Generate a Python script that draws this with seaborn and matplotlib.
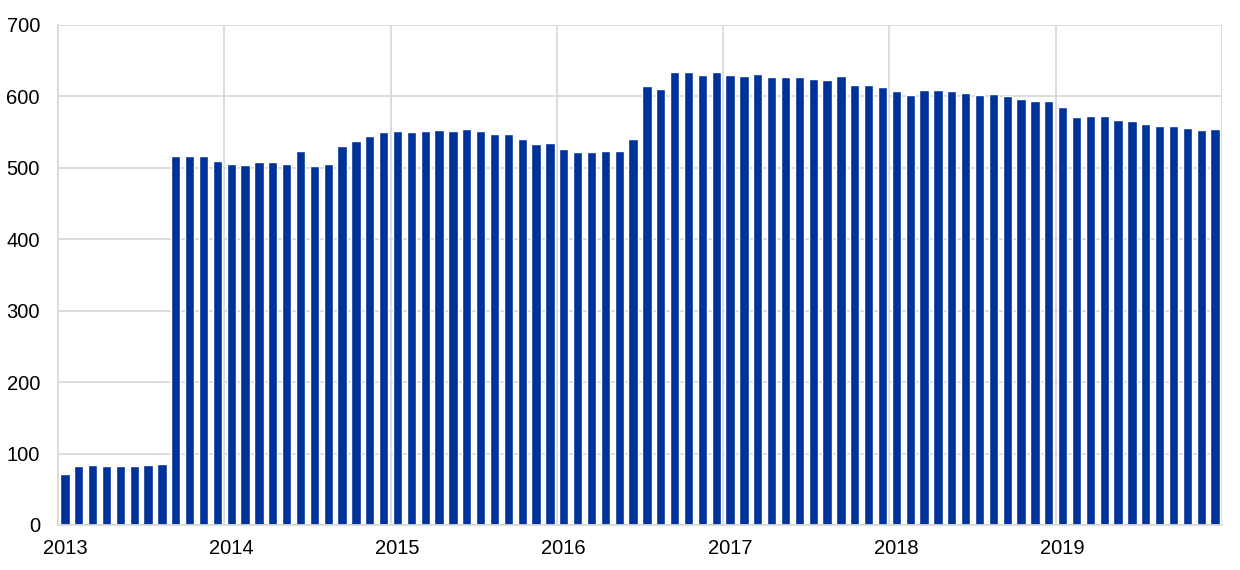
import numpy as np
import pandas as pd
import matplotlib
matplotlib.use("Agg")
import matplotlib.pyplot as plt
import seaborn as sns

# monthly values, Jan 2013 - Dec 2019
v2013 = [71, 82, 84, 82, 82, 83, 84, 86, 516, 517, 516, 509]
v2014 = [506, 504, 508, 508, 506, 524, 503, 506, 531, 537, 545, 550]
v2015 = [552, 550, 552, 553, 552, 554, 551, 548, 548, 540, 534, 535]
v2016 = [526, 522, 522, 523, 523, 541, 615, 611, 634, 634, 630, 634]
v2017 = [630, 629, 632, 627, 627, 627, 625, 623, 628, 616, 616, 613]
v2018 = [607, 602, 609, 609, 607, 605, 602, 603, 601, 596, 593, 594]
v2019 = [585, 571, 573, 573, 567, 566, 561, 558, 558, 556, 553, 554]
years = [2013, 2014, 2015, 2016, 2017, 2018, 2019]

values = v2013 + v2014 + v2015 + v2016 + v2017 + v2018 + v2019
months = [f"{y}-{m:02d}" for y in years for m in range(1, 13)]
df = pd.DataFrame({"month": months, "value": values})

sns.set_style("white")
plt.rcParams['font.family'] = ['Liberation Sans', 'DejaVu Sans']

fig = plt.figure(figsize=(12.4, 5.7), dpi=100)
ax = fig.add_axes([58 / 1240, 1 - 525 / 570, (1222 - 58) / 1240, 500 / 570])

grid_c = "#d9d9d9"
ax.set_axisbelow(True)
sns.barplot(data=df, x="month", y="value", color="#003399", saturation=1,
            width=0.68, ax=ax)

ax.set_xlim(-0.5, len(months) - 0.5)
ax.set_ylim(0, 700)
ax.set_yticks(range(0, 701, 100))
ax.yaxis.grid(True, color=grid_c, lw=1.3)
for k in range(1, len(years) + 1):
    ax.axvline(12 * k - 0.5, color=grid_c, lw=1.3, zorder=0)

ax.set_xticks([12 * i for i in range(len(years))])
ax.set_xticklabels([str(y) for y in years])
ax.tick_params(axis="both", length=0, labelsize=14.5, colors="black")
ax.tick_params(axis="y", pad=13)
ax.tick_params(axis="x", pad=10)
ax.set_xlabel("")
ax.set_ylabel("")

for s in ["top", "right"]:
    ax.spines[s].set_visible(False)
for s in ["left", "bottom"]:
    ax.spines[s].set_color(grid_c)
    ax.spines[s].set_linewidth(1.3)

fig.savefig("out.png", dpi=100)
